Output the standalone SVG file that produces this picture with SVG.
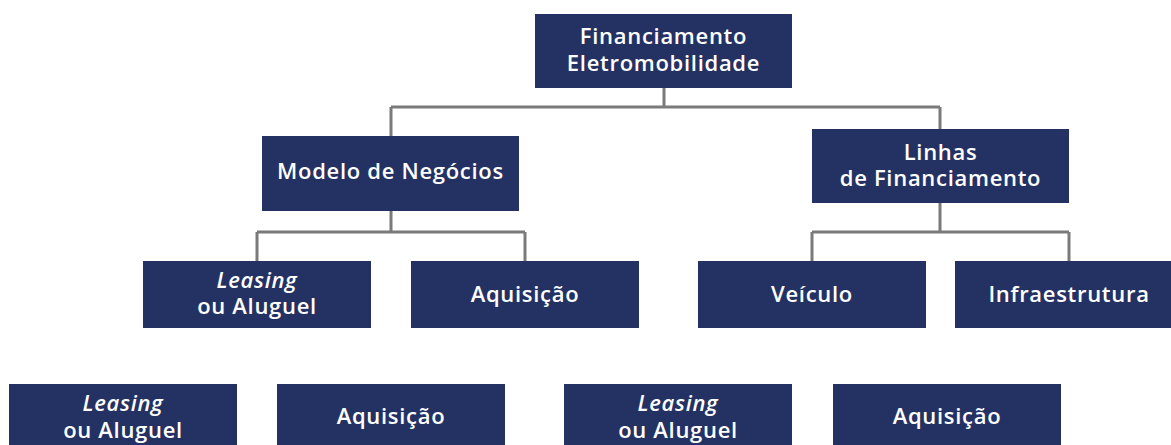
<svg xmlns="http://www.w3.org/2000/svg" width="1171" height="445" viewBox="0 0 1171 445">
<style>
.box{fill:#243263}
.t{font-family:"Open Sans","Liberation Sans",sans-serif;font-weight:600;font-size:22px;fill:#ffffff;text-anchor:middle;letter-spacing:0.7px}
.i{font-style:italic}
.c{fill:none;stroke:#7a7a7a;stroke-width:3}
</style>
<rect width="1171" height="445" fill="#ffffff"/>
<g id="connectors">
<path class="c" d="M664,88 V107 M391,107 H940 M391,107 V136 M940,107 V129"/>
<path class="c" d="M391,211 V232 M257,232 H525 M257,232 V261 M525,232 V261"/>
<path class="c" d="M940,203 V232 M812,232 H1069 M812,232 V261 M1069,232 V261"/>
</g>
<g id="financiamento-eletromobilidade">
<rect class="box" x="535" y="14" width="257" height="74"/>
<text class="t" x="663.5" y="44">Financiamento</text>
<text class="t" x="663.5" y="71">Eletromobilidade</text>
</g>
<g id="modelo-de-negocios">
<rect class="box" x="262" y="136" width="257" height="75"/>
<text class="t" x="390.5" y="179">Modelo de Negócios</text>
</g>
<g id="linhas-de-financiamento">
<rect class="box" x="812" y="129" width="257" height="74"/>
<text class="t" x="940.5" y="160">Linhas</text>
<text class="t" x="940.5" y="186">de Financiamento</text>
</g>
<g id="leasing-1">
<rect class="box" x="143" y="261" width="228" height="67"/>
<text class="t i" x="257" y="288">Leasing</text>
<text class="t" x="257" y="314">ou Aluguel</text>
</g>
<g id="aquisicao-1">
<rect class="box" x="411" y="261" width="228" height="67"/>
<text class="t" x="525" y="302">Aquisição</text>
</g>
<g id="veiculo">
<rect class="box" x="698" y="261" width="228" height="67"/>
<text class="t" x="812" y="302">Veículo</text>
</g>
<g id="infraestrutura">
<rect class="box" x="955" y="261" width="228" height="67"/>
<text class="t" x="1069" y="302">Infraestrutura</text>
</g>
<g id="leasing-2">
<rect class="box" x="9" y="384" width="228" height="67"/>
<text class="t i" x="123" y="411">Leasing</text>
<text class="t" x="123" y="438">ou Aluguel</text>
</g>
<g id="aquisicao-2">
<rect class="box" x="277" y="384" width="228" height="67"/>
<text class="t" x="391" y="424">Aquisição</text>
</g>
<g id="leasing-3">
<rect class="box" x="564" y="384" width="228" height="67"/>
<text class="t i" x="678" y="411">Leasing</text>
<text class="t" x="678" y="438">ou Aluguel</text>
</g>
<g id="aquisicao-3">
<rect class="box" x="833" y="384" width="228" height="67"/>
<text class="t" x="947" y="424">Aquisição</text>
</g>
</svg>
